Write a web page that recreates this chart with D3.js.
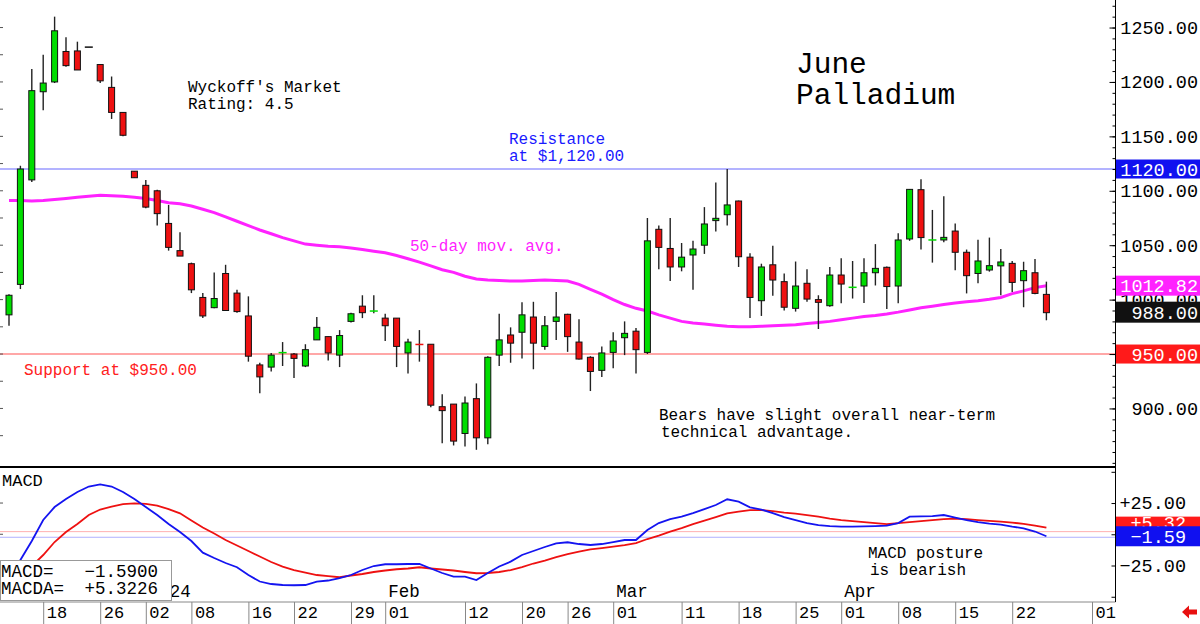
<!DOCTYPE html>
<html>
<head>
<meta charset="utf-8">
<script src="https://cdn.jsdelivr.net/npm/d3@7"></script>
<style>
  body { margin: 0; background: #fff; }
  text { font-family: "Liberation Mono", "DejaVu Sans Mono", monospace; }
</style>
</head>
<body>
<svg id="chart" width="1200" height="624"></svg>
<script>
// trading days shown (Dec 13 2023 .. Apr 25 2024)
const dates = [
  '2023-12-13','2023-12-14','2023-12-15','2023-12-18','2023-12-19','2023-12-20','2023-12-21','2023-12-22',
  '2023-12-26','2023-12-27','2023-12-28','2023-12-29',
  '2024-01-02','2024-01-03','2024-01-04','2024-01-05','2024-01-08','2024-01-09','2024-01-10','2024-01-11','2024-01-12',
  '2024-01-16','2024-01-17','2024-01-18','2024-01-19','2024-01-22','2024-01-23','2024-01-24','2024-01-25','2024-01-26',
  '2024-01-29','2024-01-30','2024-01-31','2024-02-01','2024-02-02','2024-02-05','2024-02-06','2024-02-07','2024-02-08','2024-02-09',
  '2024-02-12','2024-02-13','2024-02-14','2024-02-15','2024-02-16','2024-02-20','2024-02-21','2024-02-22','2024-02-23',
  '2024-02-26','2024-02-27','2024-02-28','2024-02-29','2024-03-01','2024-03-04','2024-03-05','2024-03-06','2024-03-07','2024-03-08',
  '2024-03-11','2024-03-12','2024-03-13','2024-03-14','2024-03-15','2024-03-18','2024-03-19','2024-03-20','2024-03-21','2024-03-22',
  '2024-03-25','2024-03-26','2024-03-27','2024-03-28','2024-04-01','2024-04-02','2024-04-03','2024-04-04','2024-04-05',
  '2024-04-08','2024-04-09','2024-04-10','2024-04-11','2024-04-12','2024-04-15','2024-04-16','2024-04-17','2024-04-18','2024-04-19',
  '2024-04-22','2024-04-23','2024-04-24','2024-04-25'
];
// empty slots to the right of the last bar
const futureDates = ['2024-04-26','2024-04-29','2024-04-30','2024-05-01','2024-05-02','2024-05-03'];

const opens = [
  986, 1014, 1110, 1191, 1200, 1228, 1228.5, 1232, 1216, 1195, 1172, 1118,
  1105, 1100, 1070, 1045, 1033, 1002, 992.6, 1024, 1006,
  985, 940, 938, 951, 950, 939, 963, 966, 949,
  980, 994, 989, 983, 983, 951, 959, 959, 901.6, 904,
  877, 909, 873, 949, 967.5, 970, 984, 957, 980,
  986.5, 961, 947, 935, 951.5, 965, 971, 951.5, 1064.6, 1047,
  1030, 1041, 1050, 1072.6, 1078, 1090.6, 1039, 999, 1032, 1016.5,
  992, 1015, 1000, 994.4, 1022.6, 1011, 1012.5, 1024.7, 1029.7,
  1012.5, 1055.7, 1101, 1054.5, 1054.8, 1063, 1043.5, 1024, 1027.2, 1031,
  1033.3, 1017.4, 1024.7, 1004.8
];
const highs = [
  1005, 1123, 1212, 1225, 1260, 1241, 1237, 1232, 1216, 1205, 1172, 1118,
  1110, 1101, 1087, 1062, 1034, 1006, 1025, 1032, 1009,
  1003, 942, 951, 961, 951, 959, 984, 966, 972,
  988, 1004, 1004, 987, 983, 964, 972, 959, 913, 904,
  911, 923, 948, 987, 974.5, 997.5, 998, 985, 1007,
  987, 982, 948, 957, 970, 980, 974, 1075, 1068, 1075,
  1052, 1054, 1085, 1107.5, 1120, 1091, 1042.5, 1033, 1049.5, 1024,
  1035, 1028, 1004, 1030, 1038, 1035.5, 1038, 1051, 1030.5,
  1061, 1101.5, 1110.5, 1082.4, 1095, 1070, 1046, 1055, 1057, 1046.5,
  1035.5, 1034.8, 1037.3, 1016.5
];
const lows = [
  976, 1009.7, 1108, 1174, 1199, 1214, 1211, 1232, 1199, 1166, 1150, 1112,
  1084, 1068, 1045, 1040, 1006, 983, 992, 990, 988,
  943, 914, 934, 939, 928, 938, 963, 944, 938,
  979, 983, 987.4, 962, 938, 932, 943, 901, 868, 866,
  865, 862, 867, 939, 942, 946, 936, 954, 963,
  952, 945, 916, 929, 937, 949, 932, 950, 1028, 1017,
  1026, 1009, 1042, 1062.6, 1068, 1030, 983, 985, 1003.6, 990,
  989, 998, 973, 993.5, 996.6, 1001, 997, 1013, 991.4,
  996.6, 1054, 1046, 1034, 1052.7, 1027, 1005.7, 1015, 1025.7, 1004,
  1007, 993, 1005, 981
];
const closes = [
  1004, 1120, 1192, 1199, 1247, 1215, 1211, 1232, 1201, 1172, 1151, 1112,
  1085, 1079, 1048, 1040, 1009, 985, 1001, 990, 989,
  948, 929, 949, 951.3, 946, 954, 974.5, 951, 967,
  987, 988, 989.5, 976, 957, 961, 958.8, 903, 898, 870,
  905, 873, 947, 963, 960, 986, 960, 976, 984,
  966, 945.4, 934, 951, 962, 969, 954, 1054, 1048, 1030,
  1039, 1046.5, 1069.5, 1074.7, 1087, 1039.4, 1002, 1030, 1018, 993,
  1012.5, 1000.5, 997.5, 1022.6, 1014.3, 1011.3, 1024.7, 1028.7, 1012,
  1054.8, 1101.3, 1057, 1054.8, 1057.2, 1043.5, 1022, 1035.5, 1031.2, 1034.6,
  1015.8, 1026.6, 1005.7, 988
];
const ma50 = [
  1091, 1091, 1090.5, 1091, 1092, 1093, 1094, 1095, 1096, 1095.5, 1095, 1094,
  1093, 1091, 1089, 1088, 1086, 1083, 1080, 1076, 1072,
  1068, 1064, 1060.5, 1057, 1054, 1051, 1050, 1049, 1048.5,
  1047.5, 1046, 1044.5, 1043, 1040.5, 1037.5, 1034.5, 1031, 1027.5, 1025,
  1021.5, 1019, 1018, 1017.5, 1017, 1017, 1017.5, 1018, 1017.5,
  1017, 1014, 1009.5, 1005, 1000, 995.5, 992, 989.5, 986, 983,
  980, 978.5, 977.5, 976.5, 975.5, 975, 975, 975.5, 976, 976.5,
  977, 978, 979, 980, 981.5, 983, 984.5, 985.5, 986.8,
  988.5, 990.5, 992.5, 994, 995.5, 996.8, 998, 999, 1000.3, 1002,
  1005.5, 1008, 1011, 1012.82
];
const macdLine = [
  -40.6, -20.6, -5.4, 11.4, 21.8, 28.2, 33.8, 38.2, 40, 38.2, 33.8, 28.2,
  21.8, 15.4, 8.2, 1.8, -5.4, -14.7, -19, -23, -26.4,
  -32.6, -37.8, -39.8, -40.6, -40.8, -40.6, -37.9, -37, -35,
  -32.6, -28.6, -25.4, -24, -24, -23.8, -23.8, -27.4, -31, -33.9,
  -33.9, -36.6, -31, -25.8, -21.9, -16.6, -13.4, -10.2, -7.2,
  -6.4, -7.8, -8.6, -7.8, -6.2, -4.6, -4.6, 3.4, 9, 12.2,
  14.2, 17, 20.2, 23.4, 28, 26.1, 21.6, 19.8, 17, 13.8,
  11.4, 9, 7.4, 6.6, 6.2, 6.1, 6.4, 6.6, 6.9,
  9, 14.1, 14.4, 14.6, 15.4, 13.4, 11.4, 9.8, 8.6, 7.8,
  6.1, 4.8, 2.2, -1.59
];
const signalLine = [
  -44.6, -35, -25.4, -16.6, -6.2, 1.8, 8.2, 15.4, 19.8, 22.2, 24.2, 24.8,
  24.4, 23, 20.2, 16.8, 11, 5.4, 0.6, -4.6, -9,
  -13.4, -17.8, -22.2, -25.9, -28.6, -30.6, -32.6, -33.5, -34.4,
  -33, -31.8, -30.2, -29, -28, -27.4, -26.4, -27.4, -28.2, -29,
  -30.2, -31.2, -31, -30.2, -28.6, -26.2, -23.4, -21, -18.2,
  -15.8, -13.8, -12, -11, -9.9, -8.6, -7, -3.8, -1, 2.2,
  5, 8.2, 11, 13.8, 16.8, 18.2, 19.4, 19.4, 18.6, 17.3,
  16.6, 15.4, 14.2, 12.6, 11.4, 10.5, 9.7, 8.9, 8.2,
  9, 9.8, 10.6, 11.4, 12.2, 12.6, 12.1, 11.4, 10.8, 10.2,
  9.3, 8.4, 7, 5.32
];

const priceTicks = [900, 950, 1000, 1050, 1100, 1150, 1200, 1250];
const macdTicks = [-25, 25];
const resistance = 1120;
const support = 950;
const dayTicks = ['2023-12-18','2023-12-26','2024-01-02','2024-01-08','2024-01-16','2024-01-22','2024-01-29',
  '2024-02-01','2024-02-12','2024-02-20','2024-02-26','2024-03-01','2024-03-11','2024-03-18','2024-03-25',
  '2024-04-01','2024-04-08','2024-04-15','2024-04-22','2024-05-01'];
const monthTicks = ['2024-01-02','2024-02-01','2024-03-01','2024-04-01'];
const monthNames = ['2024','Feb','Mar','Apr'];

const GREEN = '#00dd00', RED = '#ee1111', MAGENTA = '#ff22ff', BLUE = '#1414f0';
const axisX = 1115.5;

const svg = d3.select('#chart');
svg.append('rect').attr('width', 1200).attr('height', 624).attr('fill', '#fff');

const x = d3.scalePoint()
  .domain(dates.concat(futureDates))
  .range([9, 9 + 97 * 11.4]);

// price panel
const y = d3.scaleLinear().domain([846.2, 1275.3]).range([467, 0]);
// macd panel
const ym = d3.scaleLinear().domain([-54.2, 53.84]).range([602, 467]);

// support / resistance
svg.append('line')
  .attr('x1', 0).attr('x2', axisX)
  .attr('y1', y(resistance)).attr('y2', y(resistance))
  .attr('stroke', '#9a9aff').attr('stroke-width', 1.5);
svg.append('line')
  .attr('x1', 0).attr('x2', axisX)
  .attr('y1', y(support)).attr('y2', y(support))
  .attr('stroke', '#ff8a8a').attr('stroke-width', 1.5);

// left edge small ticks
const leftTicks = d3.range(875, 1275, 25);
svg.append('g').selectAll('line').data(leftTicks).enter().append('line')
  .attr('x1', 0).attr('x2', 3)
  .attr('y1', d => y(d)).attr('y2', d => y(d))
  .attr('stroke', '#555');

// moving average
svg.append('path')
  .datum(ma50)
  .attr('fill', 'none')
  .attr('stroke', MAGENTA)
  .attr('stroke-width', 3)
  .attr('d', d3.line().x((d, i) => x(dates[i])).y(d => y(d)));

// candles
const candles = svg.append('g').selectAll('g')
  .data(dates.map((d, i) => ({ d, o: opens[i], h: highs[i], l: lows[i], c: closes[i] })))
  .enter().append('g');

candles.filter(k => k.h > k.l).append('line')
  .attr('x1', k => x(k.d)).attr('x2', k => x(k.d))
  .attr('y1', k => y(k.h)).attr('y2', k => y(k.l))
  .attr('stroke', '#222').attr('stroke-width', 1.4);

candles.filter(k => Math.abs(y(k.o) - y(k.c)) >= 1.5).append('rect')
  .attr('x', k => x(k.d) - 3)
  .attr('y', k => y(Math.max(k.o, k.c)))
  .attr('width', 6)
  .attr('height', k => Math.abs(y(k.o) - y(k.c)))
  .attr('fill', k => k.c > k.o ? GREEN : RED)
  .attr('stroke', '#111').attr('stroke-width', 1);

candles.filter(k => Math.abs(y(k.o) - y(k.c)) < 1.5).append('line')
  .attr('x1', k => x(k.d) - 4).attr('x2', k => x(k.d) + 4)
  .attr('y1', k => y(k.c)).attr('y2', k => y(k.c))
  .attr('stroke', k => k.h === k.l ? '#111' : (k.c >= k.o ? GREEN : RED))
  .attr('stroke-width', 1.5);

// panel separator
svg.append('line')
  .attr('x1', 0).attr('x2', axisX).attr('y1', 467).attr('y2', 467)
  .attr('stroke', '#000').attr('stroke-width', 2);

// macd reference lines
svg.append('line')
  .attr('x1', 0).attr('x2', axisX)
  .attr('y1', ym(signalLine[signalLine.length - 1]) + 4).attr('y2', ym(signalLine[signalLine.length - 1]) + 4)
  .attr('stroke', '#ffb0b0').attr('stroke-width', 1);
svg.append('line')
  .attr('x1', 0).attr('x2', axisX)
  .attr('y1', ym(macdLine[macdLine.length - 1]) + 1).attr('y2', ym(macdLine[macdLine.length - 1]) + 1)
  .attr('stroke', '#b0b0ff').attr('stroke-width', 1);

svg.append('g').selectAll('line').data([-25, 0, 25]).enter().append('line')
  .attr('x1', 0).attr('x2', 3)
  .attr('y1', d => ym(d)).attr('y2', d => ym(d))
  .attr('stroke', '#555');

svg.append('clipPath').attr('id', 'mclip')
  .append('rect').attr('x', 0).attr('y', 468).attr('width', axisX).attr('height', 134);

svg.append('path')
  .datum(signalLine)
  .attr('clip-path', 'url(#mclip)')
  .attr('fill', 'none').attr('stroke', RED).attr('stroke-width', 1.8)
  .attr('d', d3.line().x((d, i) => x(dates[i])).y(d => ym(d)));
svg.append('path')
  .datum(macdLine)
  .attr('clip-path', 'url(#mclip)')
  .attr('fill', 'none').attr('stroke', BLUE).attr('stroke-width', 1.8)
  .attr('d', d3.line().x((d, i) => x(dates[i])).y(d => ym(d)));

svg.append('text').attr('x', 2).attr('y', 486)
  .attr('font-size', 17).text('MACD');

// month labels
svg.append('g').selectAll('text').data(monthTicks).enter().append('text')
  .attr('x', d => x(d) + 3).attr('y', 597)
  .attr('font-size', 17.5)
  .text((d, i) => monthNames[i]);

// legend box
svg.append('rect')
  .attr('x', 0.5).attr('y', 560.5).attr('width', 171).attr('height', 40)
  .attr('fill', '#fff').attr('stroke', '#999');
svg.append('text').attr('x', 1).attr('y', 577).attr('font-size', 17.5).text('MACD=');
svg.append('text').attr('x', 1).attr('y', 594).attr('font-size', 17.5).text('MACDA=');
svg.append('text').attr('x', 158).attr('y', 577).attr('font-size', 17.5).attr('text-anchor', 'end')
  .text(d3.format('.4f')(macdLine[macdLine.length - 1]));
svg.append('text').attr('x', 158).attr('y', 594).attr('font-size', 17.5).attr('text-anchor', 'end')
  .text('+' + d3.format('.4f')(5.3226));

// date strip
svg.append('line')
  .attr('x1', 0).attr('x2', axisX).attr('y1', 602).attr('y2', 602)
  .attr('stroke', '#888').attr('stroke-width', 1);
const dayAxis = svg.append('g').attr('transform', 'translate(0,602)')
  .call(d3.axisBottom(x).tickValues(dayTicks).tickSize(22)
    .tickFormat(d => d.slice(8, 10)));
dayAxis.select('.domain').remove();
dayAxis.selectAll('.tick line').attr('stroke', '#888');
dayAxis.selectAll('.tick text')
  .attr('font-family', '"Liberation Mono", monospace')
  .attr('font-size', 17)
  .attr('fill', '#000')
  .attr('text-anchor', 'start')
  .attr('x', 3).attr('y', 16).attr('dy', 0);

// right axis
svg.append('line')
  .attr('x1', axisX).attr('x2', axisX).attr('y1', 0).attr('y2', 602)
  .attr('stroke', '#000').attr('stroke-width', 1);

const minorPrice = svg.append('g').attr('transform', `translate(${axisX},0)`)
  .call(d3.axisLeft(y).tickValues(d3.range(850, 1280, 10)).tickSize(3).tickFormat(''));
minorPrice.select('.domain').remove();
const majorPrice = svg.append('g').attr('transform', `translate(${axisX},0)`)
  .call(d3.axisLeft(y).tickValues(priceTicks).tickSize(6).tickFormat(''));
majorPrice.select('.domain').remove();

const priceAxis = svg.append('g').attr('transform', `translate(1198,0)`)
  .call(d3.axisRight(y).tickValues(priceTicks).tickSize(0).tickPadding(0).tickFormat(d3.format('.2f')));
priceAxis.select('.domain').remove();
priceAxis.selectAll('text')
  .attr('text-anchor', 'end')
  .attr('font-family', '"Liberation Mono", monospace')
  .attr('font-size', 18.5).attr('fill', '#000');

const minorMacd = svg.append('g').attr('transform', `translate(${axisX},0)`)
  .call(d3.axisLeft(ym).tickValues([-50, -25, 0, 25, 50]).tickSize(4).tickFormat(''));
minorMacd.select('.domain').remove();

const macdAxis = svg.append('g').attr('transform', `translate(1186,0)`)
  .call(d3.axisRight(ym).tickValues(macdTicks).tickSize(0).tickPadding(0)
    .tickFormat(d => (d > 0 ? '+' : '') + d3.format('.2f')(d)));
macdAxis.select('.domain').remove();
macdAxis.selectAll('text')
  .attr('text-anchor', 'end')
  .attr('font-family', '"Liberation Mono", monospace')
  .attr('font-size', 18.5).attr('fill', '#000');

// value boxes
function valueBox(yTop, h, fill, label, right) {
  svg.append('rect').attr('x', 1116).attr('y', yTop).attr('width', 84).attr('height', h).attr('fill', fill);
  svg.append('text').attr('x', right).attr('y', yTop + h / 2).attr('dy', '0.36em')
    .attr('text-anchor', 'end').attr('font-size', 18.5).attr('fill', '#fff').text(label);
}
valueBox(y(resistance) - 9.5, 19, '#1010f0', d3.format('.2f')(resistance), 1198);
valueBox(y(ma50[ma50.length - 1]) - 10, 20, '#ff22ff', d3.format('.2f')(ma50[ma50.length - 1]), 1198);
valueBox(y(closes[closes.length - 1]) - 11, 21, '#111', d3.format('.2f')(closes[closes.length - 1]), 1198);
valueBox(y(support) - 9.5, 19, '#ff1a1a', d3.format('.2f')(support), 1198);
valueBox(ym(signalLine[signalLine.length - 1]) - 11, 12, '#ff1a1a', '+5.32', 1186);
valueBox(ym(macdLine[macdLine.length - 1]) - 10, 20, '#1010f0', d3.format('.2f')(macdLine[macdLine.length - 1]), 1186);

// red arrow bottom right
svg.append('path')
  .attr('d', 'M1182,612 L1189,605.5 L1189,609.5 L1197,609.5 L1197,614.5 L1189,614.5 L1189,618.5 Z')
  .attr('fill', '#e81010');

// annotations
function note(xPos, yPos, lines, color, size, indent) {
  const t = svg.append('text').attr('x', xPos).attr('y', yPos)
    .attr('font-size', size || 16).attr('fill', color || '#000');
  lines.forEach((s, i) => {
    t.append('tspan').attr('x', xPos + (i ? (indent || 0) : 0))
      .attr('dy', i ? (size || 16) * 1.05 : 0).text(s);
  });
}
note(188, 92, ["Wyckoff's Market", 'Rating: 4.5']);
note(796, 73, ['June', 'Palladium'], '#000', 29.5);
note(509, 144, ['Resistance', 'at $1,120.00'], '#1a1aff');
note(410, 251, ['50-day mov. avg.'], '#ff22ff');
note(24, 375, ['Support at $950.00'], '#ff2020');
note(659, 420, ['Bears have slight overall near-term', 'technical advantage.'], '#000', 16, 2);
note(868, 558, ['MACD posture', 'is bearish'], '#000', 16, 2);
</script>
</body>
</html>
